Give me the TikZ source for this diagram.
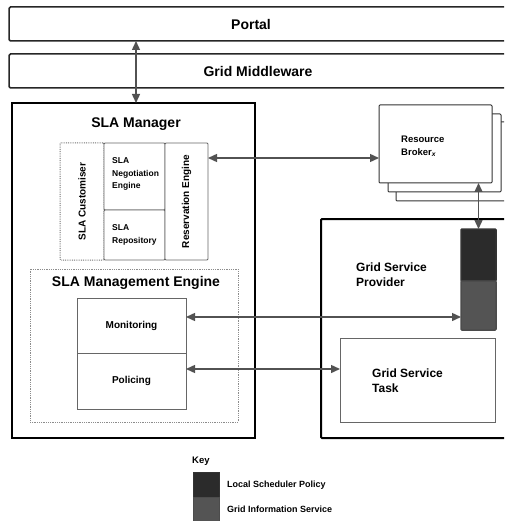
\documentclass[tikz,border=0pt]{standalone}
\usepackage{fontspec}
\setmainfont{Liberation Sans}
\usetikzlibrary{arrows, arrows.meta, positioning}

\begin{document}
\begin{tikzpicture}[x=1pt, y=-1pt,
    box/.style={draw, inner sep=0, outer sep=0, anchor=north west},
    layer/.style={box, draw=black!85, line width=1.5pt, rounded corners=1.5pt},
    part/.style={box, draw=black!60, line width=0.8pt, fill=white, rounded corners=1pt},
    dots/.style={box, draw=black!45, densely dotted, line width=0.8pt},
    head/.style={inner sep=0, font=\bfseries\fontsize{14}{17}\selectfont},
    mid/.style={inner sep=0, align=left, font=\bfseries\fontsize{12}{15}\selectfont},
    small/.style={inner sep=0, align=left, font=\bfseries\fontsize{8.5}{12.5}\selectfont},
    link/.style={{Triangle[length=9pt, width=8pt]}-{Triangle[length=9pt, width=8pt]}, draw=black!68, line width=1.4pt}]
  \useasboundingbox (0,0) rectangle (504,521);
  \clip (0,0) rectangle (504,521);

  \node[layer, minimum width=520, minimum height=34] (portal) at (9,7) {};
  \node[head] (portaltext) at (251,24) {Portal};
  \node[layer, minimum width=520, minimum height=34] (mw) at (9,54) {};
  \node[head] (mwtext) at (258,71) {Grid Middleware};

  \node[box, line width=2pt, minimum width=243, minimum height=335] (mgr) at (12,103) {};
  \node[head] (mgrtitle) at (136,124) {SLA Manager};
  \node[part, draw=black!55, densely dotted, line width=1pt, minimum width=44, minimum height=117] (cust) at (60,143) {};
  \node[small, rotate=90, font=\bfseries\fontsize{10}{12}\selectfont] (custtext) at (cust.center) {SLA Customiser};
  \node[part, minimum width=61, minimum height=67] (nego) at (104,143) {};
  \node[small, anchor=west] (negotext) at (112,174) {SLA\\Negotiation\\Engine};
  \node[part, minimum width=61, minimum height=50] (repo) at (104,210) {};
  \node[small, anchor=west] (repotext) at (112,235) {SLA\\Repository};
  \node[part, minimum width=43, minimum height=117] (resv) at (165,143) {};
  \node[small, rotate=90, font=\bfseries\fontsize{10}{12}\selectfont] (resvtext) at (resv.center) {Reservation Engine};

  \node[dots, minimum width=208, minimum height=153] (me) at (30,269) {};
  \node[head] (metitle) at (136,283) {SLA Management Engine};
  \node[part, rounded corners=0, minimum width=109, minimum height=55] (monit) at (77,298) {};
  \node[small, font=\bfseries\fontsize{10}{12}\selectfont] (monittext) at (monit.center) {Monitoring};
  \node[part, rounded corners=0, minimum width=109, minimum height=56] (polic) at (77,353) {};
  \node[small, font=\bfseries\fontsize{10}{12}\selectfont] (polictext) at (polic.center) {Policing};

  \node[part, draw=black!80, line width=1pt, minimum width=113, minimum height=79] (broker3) at (396,122) {};
  \node[part, draw=black!80, line width=1pt, minimum width=113, minimum height=78] (broker2) at (388,114) {};
  \node[part, draw=black!80, line width=1pt, minimum width=113, minimum height=78] (broker) at (379,105) {};
  \node[small, anchor=west, font=\bfseries\fontsize{9.5}{13}\selectfont] (brokertext) at (401,146) {Resource\\Broker\textsubscript{\itshape x}};

  \node[box, line width=2pt, rounded corners=1pt, minimum width=200, minimum height=219] (gsp) at (321,219) {};
  \node[mid, anchor=west] (gsptext) at (356,275) {Grid Service\\Provider};
  \node[box, draw=black!80, line width=1.5pt, fill=black!83, rounded corners=1pt, minimum width=35, minimum height=52] (lsp) at (461,229) {};
  \node[box, draw=black!70, line width=1.5pt, fill=black!67, rounded corners=1pt, minimum width=35, minimum height=49] (gis) at (461,281) {};
  \node[part, rounded corners=0, minimum width=155, minimum height=84] (task) at (340,338) {};
  \node[mid, anchor=west] (tasktext) at (372,381) {Grid Service\\Task};

  \draw[link] (portal.south -| mgrtitle) -- (mgr.north -| mgrtitle);
  \draw[link] ([yshift=43.5pt]resv.east) -- ([yshift=-14pt]broker.west);
  \draw[link] (lsp.north) -- (lsp.north |- broker.south);
  \draw[link] ([yshift=8.5pt]monit.east) -- ([yshift=-11.5pt]gis.west);
  \draw[link] ([yshift=12pt]polic.east) -- ([yshift=11pt]task.west);

  \node[small, anchor=west, font=\bfseries\fontsize{9.5}{12}\selectfont] (keytext) at (192,461) {Key};
  \node[box, draw=black!80, fill=black!83, minimum width=26, minimum height=25] (keylsp) at (193,472) {};
  \node[box, draw=black!70, fill=black!67, minimum width=26, minimum height=26] (keygis) at (193,497) {};
  \node[small, anchor=west, font=\bfseries\fontsize{9}{12}\selectfont] (keylsptext) at (227,485) {Local Scheduler Policy};
  \node[small, anchor=west, font=\bfseries\fontsize{9}{12}\selectfont] (keygistext) at (227,509) {Grid Information Service};
\end{tikzpicture}
\end{document}
